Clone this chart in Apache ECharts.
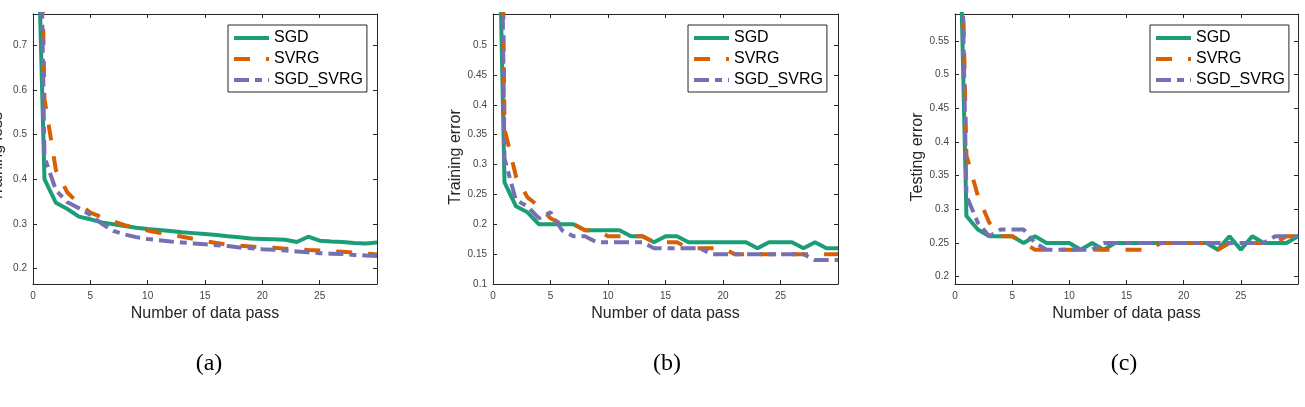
<!DOCTYPE html>
<html><head><meta charset="utf-8">
<script src="https://cdn.jsdelivr.net/npm/echarts@6/dist/echarts.min.js"></script>
<style>html,body{margin:0;padding:0;background:#fff}#c{width:1305px;height:407px}</style>
</head><body><div id="c"></div>
<script>
// ---- data ----
const passes = [0.5, 1, 2, 3, 4, 5, 6, 7, 8, 9, 10, 11, 12, 13, 14, 15, 16, 17, 18, 19, 20, 21, 22, 23, 24, 25, 26, 27, 28, 29, 30];
const seriesNames = ['SGD', 'SVRG', 'SGD_SVRG'];

const lossSGD = [0.89, 0.40, 0.347, 0.333, 0.316, 0.31, 0.303, 0.299, 0.295, 0.291, 0.288, 0.286, 0.284, 0.281, 0.279, 0.277, 0.275, 0.272, 0.270, 0.267, 0.266, 0.265, 0.264, 0.259, 0.271, 0.262, 0.260, 0.259, 0.257, 0.256, 0.258];
const lossSVRG = [1.31, 0.58, 0.42, 0.37, 0.345, 0.325, 0.315, 0.305, 0.297, 0.29, 0.285, 0.28, 0.276, 0.271, 0.266, 0.261, 0.257, 0.253, 0.251, 0.249, 0.247, 0.246, 0.244, 0.243, 0.241, 0.240, 0.239, 0.237, 0.235, 0.233, 0.231];
const lossSGDSVRG = [1.25, 0.45, 0.375, 0.348, 0.335, 0.32, 0.30, 0.284, 0.276, 0.27, 0.266, 0.263, 0.26, 0.258, 0.256, 0.254, 0.252, 0.25, 0.247, 0.245, 0.243, 0.242, 0.24, 0.238, 0.236, 0.234, 0.233, 0.232, 0.23, 0.229, 0.228];

const trainErrSGD = [0.74, 0.27, 0.23, 0.22, 0.20, 0.20, 0.20, 0.20, 0.19, 0.19, 0.19, 0.19, 0.18, 0.18, 0.17, 0.18, 0.18, 0.17, 0.17, 0.17, 0.17, 0.17, 0.17, 0.16, 0.17, 0.17, 0.17, 0.16, 0.17, 0.16, 0.16];
const trainErrSVRG = [1.32, 0.36, 0.28, 0.245, 0.23, 0.21, 0.20, 0.20, 0.19, 0.19, 0.18, 0.18, 0.18, 0.18, 0.17, 0.17, 0.17, 0.16, 0.16, 0.16, 0.16, 0.15, 0.15, 0.15, 0.15, 0.15, 0.15, 0.15, 0.15, 0.15, 0.15];
const trainErrSGDSVRG = [1.12, 0.31, 0.24, 0.23, 0.21, 0.22, 0.19, 0.18, 0.18, 0.17, 0.17, 0.17, 0.17, 0.17, 0.16, 0.16, 0.16, 0.16, 0.16, 0.15, 0.15, 0.15, 0.15, 0.15, 0.15, 0.15, 0.15, 0.15, 0.14, 0.14, 0.14];

const testErrSGD = [0.665, 0.29, 0.27, 0.26, 0.26, 0.26, 0.25, 0.26, 0.25, 0.25, 0.25, 0.24, 0.25, 0.24, 0.25, 0.25, 0.25, 0.25, 0.25, 0.25, 0.25, 0.25, 0.25, 0.24, 0.26, 0.24, 0.26, 0.25, 0.25, 0.25, 0.26];
const testErrSVRG = [0.77, 0.38, 0.32, 0.28, 0.26, 0.26, 0.25, 0.24, 0.24, 0.24, 0.24, 0.24, 0.24, 0.24, 0.24, 0.24, 0.24, 0.24, 0.25, 0.25, 0.25, 0.25, 0.25, 0.24, 0.25, 0.25, 0.25, 0.25, 0.25, 0.26, 0.26];
const testErrSGDSVRG = [0.77, 0.32, 0.28, 0.26, 0.27, 0.27, 0.27, 0.25, 0.24, 0.24, 0.24, 0.24, 0.24, 0.25, 0.25, 0.25, 0.25, 0.25, 0.25, 0.25, 0.25, 0.25, 0.25, 0.25, 0.25, 0.25, 0.25, 0.25, 0.26, 0.26, 0.26];

const xTicks = [0, 5, 10, 15, 20, 25];
const yTicksLoss = [0.2, 0.3, 0.4, 0.5, 0.6, 0.7];
const yTicksTrain = [0.1, 0.15, 0.2, 0.25, 0.3, 0.35, 0.4, 0.45, 0.5];
const yTicksTest = [0.2, 0.25, 0.3, 0.35, 0.4, 0.45, 0.5, 0.55];

const yNames = ['Training loss', 'Training error', 'Testing error'];
const xName = 'Number of data pass';
const panelLabels = ['(a)', '(b)', '(c)'];

// ---- layout / style ----
const grids = [
  {left: 33, top: 14, width: 344, height: 270, outerBoundsMode: 'none', containLabel: false},
  {left: 493, top: 14, width: 345, height: 270, outerBoundsMode: 'none', containLabel: false},
  {left: 955, top: 14, width: 343, height: 270, outerBoundsMode: 'none', containLabel: false}
];
const yRanges = [[0.165, 0.77], [0.1, 0.552], [0.189, 0.59]];
const yTickSets = [yTicksLoss, yTicksTrain, yTicksTest];
const yNameGaps = [27, 29, 29];
const panelData = [
  [lossSGD, lossSVRG, lossSGDSVRG],
  [trainErrSGD, trainErrSVRG, trainErrSGDSVRG],
  [testErrSGD, testErrSVRG, testErrSGDSVRG]
];
const colors = ['#1b9e77', '#d95f02', '#7570b3'];
const dashes = ['solid', [16, 16], [15, 6, 7, 6]];
const axisColor = '#262626';
const font = 'Liberation Sans, Arial, Helvetica, sans-serif';
const fmt = v => String(+(+v).toFixed(2));

const xAxes = [], yAxes = [], series = [], legends = [], titles = [];
const legendLefts = [228, 688, 1150];
const labelCenters = [204, 662, 1119];

for (let p = 0; p < 3; p++) {
  xAxes.push({
    type: 'value', gridIndex: p, position: 'bottom', min: 0, max: 30,
    axisLine: {show: true, onZero: false, lineStyle: {color: axisColor, width: 1}},
    axisTick: {show: true, inside: true, length: 4, customValues: xTicks, lineStyle: {color: axisColor}},
    axisLabel: {show: true, customValues: xTicks, formatter: fmt, fontSize: 10, color: '#444', margin: 7, fontFamily: font},
    splitLine: {show: false},
    name: xName, nameLocation: 'middle', nameGap: 22,
    nameTextStyle: {fontSize: 16, color: axisColor, fontFamily: font}
  });
  yAxes.push({
    type: 'value', gridIndex: p, position: 'left', min: yRanges[p][0], max: yRanges[p][1],
    axisLine: {show: true, onZero: false, lineStyle: {color: axisColor, width: 1}},
    axisTick: {show: true, inside: true, length: 4, customValues: yTickSets[p], lineStyle: {color: axisColor}},
    axisLabel: {show: true, customValues: yTickSets[p], formatter: fmt, fontSize: 10, color: '#444', margin: 6, fontFamily: font},
    splitLine: {show: false},
    name: yNames[p], nameLocation: 'middle', nameGap: yNameGaps[p], nameRotate: 90,
    nameTextStyle: {fontSize: 16, color: axisColor, fontFamily: font, padding: [0, 16, 0, 0]}
  });
}
for (let p = 0; p < 3; p++) {
  xAxes.push({
    type: 'value', gridIndex: p, position: 'top', min: 0, max: 30,
    axisLine: {show: true, onZero: false, lineStyle: {color: axisColor, width: 1}},
    axisTick: {show: true, inside: true, length: 4, customValues: xTicks, lineStyle: {color: axisColor}},
    axisLabel: {show: false}, splitLine: {show: false}
  });
  yAxes.push({
    type: 'value', gridIndex: p, position: 'right', min: yRanges[p][0], max: yRanges[p][1],
    axisLine: {show: true, onZero: false, lineStyle: {color: axisColor, width: 1}},
    axisTick: {show: true, inside: true, length: 4, customValues: yTickSets[p], lineStyle: {color: axisColor}},
    axisLabel: {show: false}, splitLine: {show: false}
  });
}
for (let p = 0; p < 3; p++) {
  for (let s = 0; s < 3; s++) {
    series.push({
      type: 'line', name: seriesNames[s], xAxisIndex: p, yAxisIndex: p,
      data: passes.map((x, i) => [x, panelData[p][s][i]]),
      symbol: 'none', showSymbol: false, clip: true, silent: true,
      lineStyle: {color: colors[s], width: 4, type: dashes[s]},
      itemStyle: {color: colors[s]}, z: 2 + s
    });
  }
  legends.push({
    orient: 'vertical', left: legendLefts[p], top: 25,
    padding: [5, 4, 4, 4], itemWidth: 35, itemHeight: 14, itemGap: 5,
    borderColor: axisColor, borderWidth: 1, backgroundColor: '#fff',
    selectedMode: false,
    itemStyle: {opacity: 0},
    lineStyle: {width: 4},
    textStyle: {fontSize: 16, color: '#000', fontFamily: font, lineHeight: 16},
    data: seriesNames
  });
  titles.push({
    text: panelLabels[p], left: labelCenters[p], top: 347, textAlign: 'center',
    textStyle: {fontFamily: 'Liberation Serif, Times New Roman, serif', fontSize: 24, fontWeight: 'normal', color: '#000'}
  });
}

const chart = echarts.init(document.getElementById('c'), null, {renderer: 'canvas'});
chart.setOption({
  animation: false,
  backgroundColor: '#fff',
  title: titles,
  grid: grids,
  xAxis: xAxes,
  yAxis: yAxes,
  legend: legends,
  series: series
});
</script>
</body></html>
